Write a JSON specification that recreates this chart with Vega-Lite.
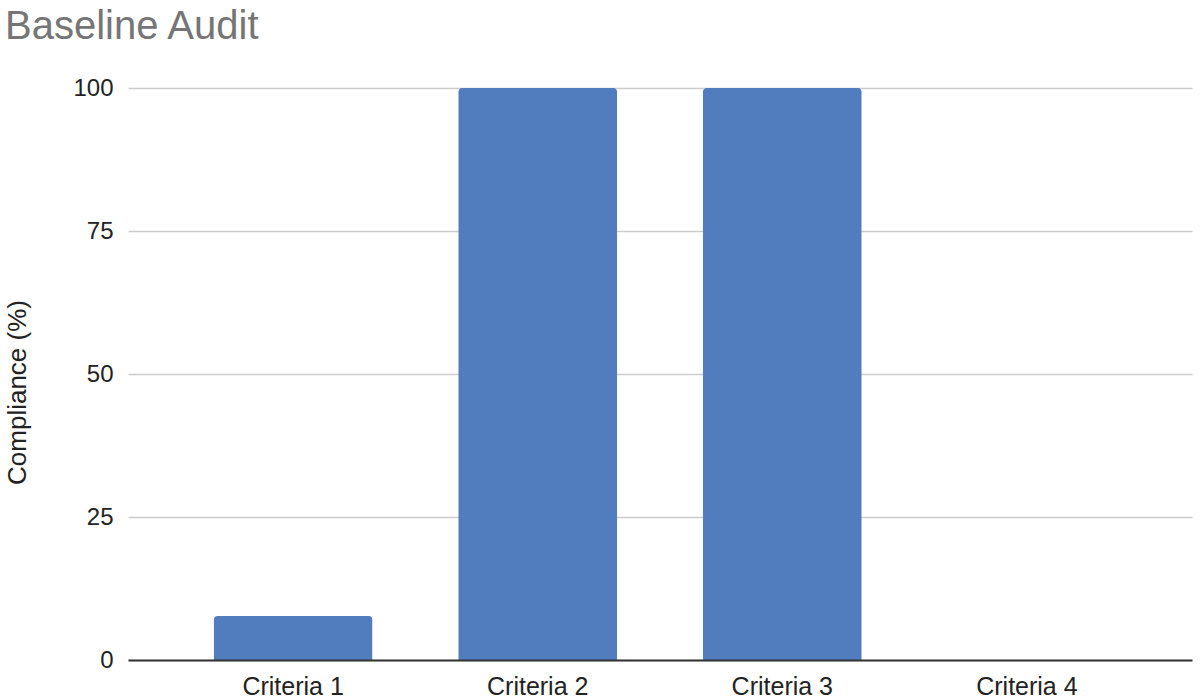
{
  "$schema": "https://vega.github.io/schema/vega-lite/v6.json",
  "width": 1064,
  "height": 572,
  "autosize": {"type": "none"},
  "padding": {"left": 128, "top": 88, "right": 8, "bottom": 38},
  "background": "white",
  "config": {
    "view": {"stroke": null},
    "font": "Liberation Sans"
  },
  "title": {
    "text": "Baseline Audit",
    "anchor": "start",
    "frame": "group",
    "fontSize": 40,
    "fontWeight": "normal",
    "color": "#757575",
    "font": "Liberation Sans",
    "baseline": "alphabetic",
    "offset": 30,
    "dx": -123,
    "dy": 33
  },
  "data": {
    "values": [
      {"criteria": "Criteria 1", "compliance": 7.7},
      {"criteria": "Criteria 2", "compliance": 100},
      {"criteria": "Criteria 3", "compliance": 100},
      {"criteria": "Criteria 4", "compliance": 0}
    ]
  },
  "mark": {"type": "bar", "color": "#517dbf", "cornerRadiusEnd": 4},
  "encoding": {
    "x": {
      "field": "criteria",
      "type": "nominal",
      "sort": null,
      "scale": {"paddingInner": 0.35, "paddingOuter": 0.35},
      "axis": {
        "title": null,
        "labelAngle": 0,
        "labelFontSize": 25,
        "labelColor": "#222222",
        "labelPadding": 14,
        "ticks": false,
        "domainColor": "#333333",
        "domainWidth": 2,
        "zindex": 1
      }
    },
    "y": {
      "field": "compliance",
      "type": "quantitative",
      "scale": {"domain": [0, 100], "nice": false},
      "axis": {
        "title": "Compliance (%)",
        "values": [0, 25, 50, 75, 100],
        "labelFontSize": 24,
        "labelColor": "#222222",
        "labelPadding": 15,
        "ticks": false,
        "domain": false,
        "gridColor": "#cccccc",
        "gridWidth": 1.5,
        "titleFontSize": 26,
        "titleFontWeight": "normal",
        "titleColor": "#222222",
        "titleX": -111,
        "titleY": 304,
        "titleAngle": 270,
        "titleAlign": "center",
        "titleBaseline": "middle"
      }
    }
  }
}
